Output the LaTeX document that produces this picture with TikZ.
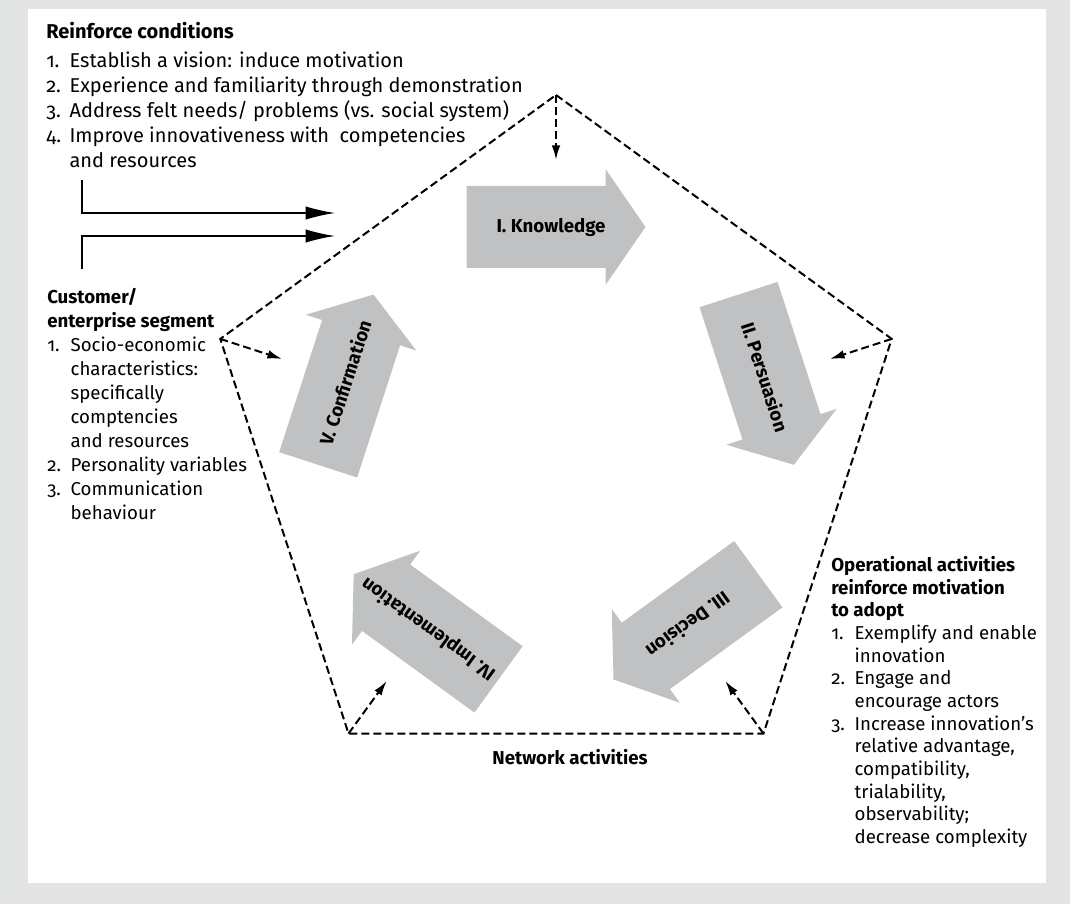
\documentclass[tikz,border=0pt]{standalone}
\usepackage{fontspec}
\setmainfont{Fira Sans}[Numbers=OldStyle]
\usetikzlibrary{arrows.meta,calc}

\definecolor{panelgray}{RGB}{227,228,228}
\definecolor{blockgray}{RGB}{192,193,194}
\newcommand{\numitem}[1]{\makebox[17.5pt][l]{#1}}
\newcommand{\contline}{\hspace*{17.5pt}}
% block arrow, centred at the origin, pointing along +x
\newcommand{\stageshape}{(-89.5,-41) -- (49.5,-41) -- (49.5,-58) -- (89.5,0) -- (49.5,58) -- (49.5,41) -- (-89.5,41) -- cycle}

\begin{document}
\begin{tikzpicture}[x=0.75pt,y=0.75pt,
	txt/.style={font=\fontsize{14}{18}\selectfont, align=left, inner sep=0pt},
	stagelabel/.style={transform shape, inner sep=0pt, font=\fontsize{14}{17}\selectfont\bfseries},
	dashline/.style={dash pattern=on 6pt off 3pt, line width=1.5pt},
	dasharrow/.style={dashline, -{Latex[length=11pt,width=6.5pt]}},
	feed/.style={line width=1.1pt, -{Latex[length=22pt,width=10pt]}}]
			\useasboundingbox (0,0) rectangle (1070,904);
			\fill[panelgray] (0,0) rectangle (1070,904);
			\fill[white] (28,21) rectangle (1046,895);
			% pentagon
			\coordinate (c) at (556,456);
			\coordinate (v1) at ($(c)+(90:353)$);
			\coordinate (v2) at ($(c)+(18:353)$);
			\coordinate (v3) at ($(c)+(-54:353)$);
			\coordinate (v4) at ($(c)+(-126:353)$);
			\coordinate (v5) at ($(c)+(162:353)$);
			\draw[dashline] (v1) -- (v2) -- (v3) -- (v4) -- (v5) -- cycle;
			\draw[dasharrow] (v1) -- ($(v1)!48.75pt!(c)$);
			\draw[dasharrow] (v2) -- ($(v2)!48.75pt!(c)$);
			\draw[dasharrow] (v3) -- ($(v3)!48.75pt!(c)$);
			\draw[dasharrow] (v4) -- ($(v4)!48.75pt!(c)$);
			\draw[dasharrow] (v5) -- ($(v5)!48.75pt!(c)$);
			% stages
			\begin{scope}[shift={($(c)+(90:221)$)}, rotate=0]
			\fill[blockgray] \stageshape;
			\node[stagelabel] (knowledge) at (-5,0) {I. Knowledge};
			\end{scope}
			\begin{scope}[shift={($(c)+(18:221)$)}, rotate=-72]
			\fill[blockgray] \stageshape;
			\node[stagelabel] (persuasion) at (-3,0) {II. Persuasion};
			\end{scope}
			\begin{scope}[shift={($(c)+(-54:221)$)}, rotate=-144]
			\fill[blockgray] \stageshape;
			\node[stagelabel] (decision) at (-3,0) {III. Decision};
			\end{scope}
			\begin{scope}[shift={($(c)+(-126:221)$)}, rotate=144]
			\fill[blockgray] \stageshape;
			\node[stagelabel] (implementation) at (-3,0) {IV. Implementation};
			\end{scope}
			\begin{scope}[shift={($(c)+(162:221)$)}, rotate=72]
			\fill[blockgray] \stageshape;
			\node[stagelabel] (confirmation) at (-3,0) {V. Confirmation};
			\end{scope}
			% side texts
			\node[txt, anchor=north west, font=\fontsize{15}{18.75}\selectfont] (reinforce) at (46,882) {\textbf{Reinforce conditions}\\[3pt]
				\numitem{1.}Establish a vision: induce motivation\\
				\numitem{2.}Experience and familiarity through demonstration\\
				\numitem{3.}Address felt needs/ problems (vs. social system)\\
				\numitem{4.}Improve innovativeness with\ \ competencies\\
				\contline and resources};
			\node[txt, anchor=north west] (segment) at (47,616) {\textbf{Customer/}\\
				\textbf{enterprise segment}\\
				\numitem{1.}Socio-economic\\
				\contline characteristics:\\
				\contline specifically\\
				\contline comptencies\\
				\contline and resources\\
				\numitem{2.}Personality variables\\
				\numitem{3.}Communication\\
				\contline behaviour};
			\node[txt, anchor=north west, font=\fontsize{14}{17}\selectfont] (operational) at (831,348) {\textbf{Operational activities}\\
				\textbf{reinforce motivation}\\
				\textbf{to adopt}\\
				\numitem{1.}Exemplify and enable\\
				\contline innovation\\
				\numitem{2.}Engage and\\
				\contline encourage actors\\
				\numitem{3.}Increase innovation’s\\
				\contline relative advantage,\\
				\contline compatibility,\\
				\contline trialability,\\
				\contline observability;\\
				\contline decrease complexity};
			\node[txt, font=\fontsize{14}{18}\selectfont\bfseries] (network) at (570,147) {Network activities};
			% inputs
			\coordinate (rcfoot) at (82,724);
			\coordinate (segtop) at (82,635);
			\coordinate (ina) at (335,691);
			\coordinate (inb) at (335,668);
			\draw[feed] (rcfoot) |- (ina);
			\draw[feed] (segtop) |- (inb);
			\end{tikzpicture}
\end{document}
